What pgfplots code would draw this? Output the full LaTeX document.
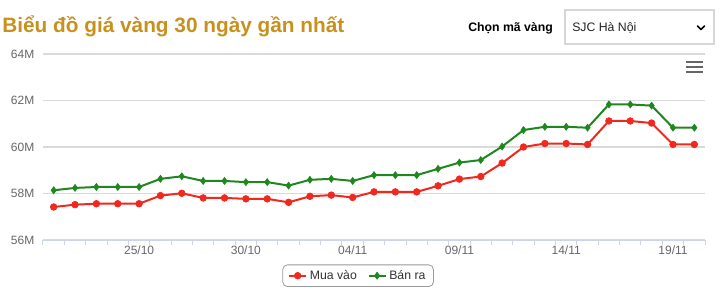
\documentclass[border=0pt]{standalone}
\usepackage{pgfplots}
\pgfplotsset{compat=1.18}
\usepackage{fontspec}
\setmainfont{Liberation Sans}
\definecolor{titlegold}{RGB}{200,145,30}
\definecolor{redline}{RGB}{240,40,30}
\definecolor{greenline}{RGB}{30,135,30}
\definecolor{gridgray}{RGB}{218,218,218}
\definecolor{axisblue}{RGB}{204,214,235}
\definecolor{labelgray}{RGB}{102,102,102}
\definecolor{textdark}{RGB}{51,51,51}
\definecolor{boxgray}{RGB}{215,215,215}
\definecolor{legendgray}{RGB}{153,153,153}
\begin{document}
\begin{tikzpicture}
\useasboundingbox (0,0) rectangle (540pt,225pt);
\begin{scope}[yshift=225pt, x=0.75pt, y=-0.75pt]
\node[anchor=base west, text=titlegold, font=\bfseries\fontsize{15.6pt}{18pt}\selectfont, inner sep=0pt] at (2,33) {Biểu đồ giá vàng 30 ngày gần nhất};
\node[anchor=base west, text=black, font=\bfseries\fontsize{9.2pt}{11pt}\selectfont, inner sep=0pt] at (468,32) {Chọn mã vàng};
\draw[draw=boxgray, line width=0.9pt] (565,10) rectangle (714,44);
\node[anchor=base west, text={rgb,255:red,34;green,34;blue,34}, font=\fontsize{9.2pt}{11pt}\selectfont, inner sep=0pt] at (572,32) {SJC Hà Nội};
\draw[line width=1.2pt, line cap=round, line join=round] (697.5,26)--(701,29.5)--(704.5,26);
\draw[labelgray, line width=1.5pt] (686,62)--(703,62) (686,67)--(703,67) (686,72)--(703,72);
\end{scope}
\begin{axis}[
  at={(32.25pt,45pt)}, anchor=south west,
  scale only axis, width=496.5pt, height=139.5pt,
  xmin=-0.5, xmax=30.5, ymin=56, ymax=64,
  separate axis lines,
  axis x line*=bottom, axis y line*=left,
  x axis line style={-, draw=axisblue, line width=0.75pt},
  y axis line style={draw=none},
  xtick={4,9,14,19,24,29},
  xticklabels={25/10,30/10,04/11,09/11,14/11,19/11},
  minor xtick={-0.5,0.5,...,30.5},
  major tick length=0pt, minor tick length=3.5pt,
  tick align=outside,
  x tick style={draw=axisblue, line width=0.75pt},
  ytick={56,58,60,62,64},
  yticklabels={56M,58M,60M,62M,64M},
  y tick style={draw=none},
  ymajorgrids, y grid style={draw=gridgray, line width=0.9pt},
  ticklabel style={font=\fontsize{9pt}{10pt}\selectfont, text=labelgray},
  yticklabel style={xshift=-3pt},
  xticklabel style={yshift=-1pt},
  clip=false,
  legend columns=2,
  legend cell align=left,
  legend style={at={(0.476,-0.192)}, anchor=center, draw=legendgray, rounded corners=3.5pt,
    font=\fontsize{9.2pt}{11pt}\selectfont, text=textdark, line width=0.6pt,
    inner xsep=4pt, inner ysep=2pt,
    /tikz/every even column/.append style={column sep=6pt}},
  legend image code/.code={\draw[mark repeat=2,mark phase=2] plot coordinates {(0pt,0pt)(6.4pt,0pt)(12.8pt,0pt)};},
]
\addplot[color=redline, line width=1.5pt, mark=*, mark size=2.5pt, mark options={fill=redline, draw=redline, line width=0.5pt}] coordinates {
(0,57.42) (1,57.52) (2,57.56) (3,57.56) (4,57.56) (5,57.91) (6,58.01) (7,57.81) (8,57.81) (9,57.77)
(10,57.77) (11,57.62) (12,57.88) (13,57.93) (14,57.83) (15,58.07) (16,58.07) (17,58.07) (18,58.33) (19,58.62)
(20,58.73) (21,59.31) (22,60.00) (23,60.15) (24,60.15) (25,60.11) (26,61.12) (27,61.12) (28,61.03) (29,60.11)
(30,60.11)};
\addlegendentry{Mua vào}
\addplot[color=greenline, line width=1.5pt, mark=diamond*, mark size=2.6pt, mark options={fill=greenline, draw=greenline, line width=0.5pt}] coordinates {
(0,58.14) (1,58.24) (2,58.28) (3,58.28) (4,58.28) (5,58.63) (6,58.74) (7,58.54) (8,58.54) (9,58.49)
(10,58.49) (11,58.34) (12,58.59) (13,58.63) (14,58.54) (15,58.79) (16,58.79) (17,58.79) (18,59.06) (19,59.33)
(20,59.44) (21,60.02) (22,60.73) (23,60.87) (24,60.87) (25,60.83) (26,61.83) (27,61.83) (28,61.78) (29,60.83)
(30,60.83)};
\addlegendentry{Bán ra}
\end{axis}
\end{tikzpicture}
\end{document}
